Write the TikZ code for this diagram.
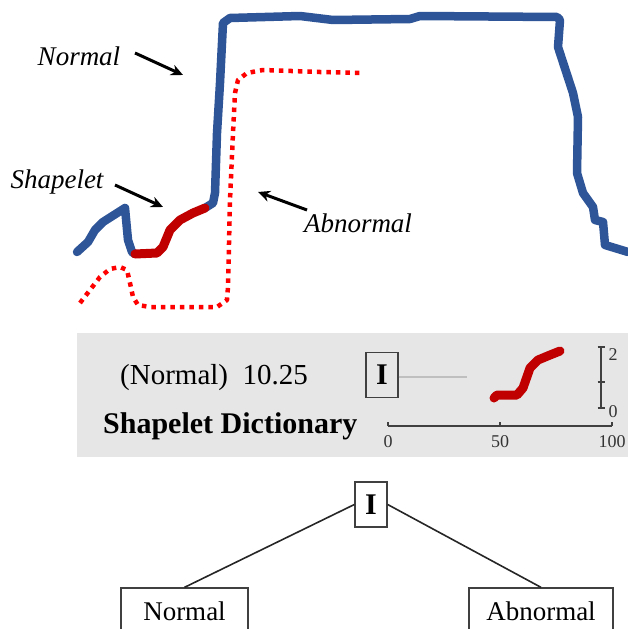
\documentclass[tikz,border=0pt]{standalone}
\usepackage{fontspec}
\setmainfont{Liberation Serif}
\usetikzlibrary{arrows.meta}
\definecolor{normblue}{RGB}{46,85,151}
\definecolor{shapered}{RGB}{192,0,0}
\definecolor{abred}{RGB}{255,0,0}
\definecolor{panelgray}{RGB}{231,230,230}
\definecolor{axisgray}{RGB}{64,64,64}
\tikzset{
  normalcurve/.style={draw=normblue,line width=8.5pt,line join=round,line cap=round},
  shapecurve/.style={draw=shapered,line width=9pt,line join=round,line cap=round},
  abcurve/.style={draw=abred,line width=4.5pt,dash pattern=on 4.5pt off 5pt,line join=round},
  callout/.style={draw=black,line width=3pt,-{Stealth[length=12pt,width=11pt]}},
  italabel/.style={font=\fontsize{27}{32}\selectfont\itshape,inner sep=0pt,anchor=base},
  ibox/.style={draw=axisgray,line width=1.3pt,minimum width=32pt,minimum height=45pt,inner sep=0pt,font=\fontsize{30}{34}\selectfont\bfseries},
  leafbox/.style={draw=axisgray,line width=1.3pt,minimum height=46pt,inner sep=0pt,font=\fontsize{27}{32}\selectfont},
  axisline/.style={draw=axisgray,line width=1.2pt},
  ticklabel/.style={font=\fontsize{18}{21}\selectfont,inner sep=0pt,text=black!80},
  treeline/.style={draw=black!85,line width=1.6pt}
}
\begin{document}
\begin{tikzpicture}[x=1pt,y=-1pt]
\useasboundingbox (0,0) rectangle (628,629);
\clip (0,0) rectangle (628,629);
% ---- time series ----
\draw[abcurve] (80,303) -- (90,290) -- (100,277) -- (110,269) -- (120,267) -- (127,270) -- (130,283) -- (133,297) -- (138,305) -- (150,307) -- (217,307) -- (227,300) -- (228,287) -- (230,200) -- (233,133) -- (235,93) -- (238,80) -- (247,73) -- (263,70) -- (320,72) -- (363,73);
\draw[normalcurve] (77,252) -- (88,242) -- (95,230) -- (103,222) -- (125,208) -- (128,240) -- (132,252) -- (135,254);
\draw[normalcurve] (205,208) -- (213,203) -- (215,193) -- (217,133) -- (220,83) -- (223,23) -- (230,18) -- (300,16) -- (333,20) -- (410,19) -- (420,16) -- (557,17) -- (560,20) -- (558,47) -- (573,93) -- (578,117) -- (577,173) -- (583,193) -- (593,207) -- (595,220) -- (603,222) -- (605,245) -- (628,252);
\draw[shapecurve] (135,254) -- (157,253) -- (163,247) -- (170,230) -- (180,220) -- (193,213) -- (205,208);
% ---- labels and callouts ----
\node[italabel] (lnormal) at (79,65) {Normal};
\node[italabel] (lshape) at (57,188) {Shapelet};
\node[italabel] (labn) at (358,232) {Abnormal};
\coordinate (tnormal) at (183,75);
\coordinate (tshape) at (163,207);
\coordinate (tabn) at (258,192);
\coordinate (snormal) at (135,53);
\coordinate (sshape) at (115,185);
\coordinate (sabn) at (307,210);
\draw[callout] (snormal) -- (tnormal);
\draw[callout] (sshape) -- (tshape);
\draw[callout] (sabn) -- (tabn);
% ---- shapelet dictionary panel ----
\fill[panelgray] (77,333) rectangle (628,457);
\node[anchor=base west,inner sep=0pt,font=\fontsize{29}{34}\selectfont] (pscore) at (120,384) {(Normal)\ \ 10.25};
\node[anchor=base west,inner sep=0pt,font=\fontsize{30}{34}\selectfont\bfseries] (pdict) at (103,433) {Shapelet Dictionary};
\node[ibox] (pI) at (382,375) {I};
\coordinate (pline) at (467,377);
\draw[draw=black!25,line width=2.8pt] (pI.east |- pline) -- (pline);
\draw[shapecurve,line width=9pt] (494,398) -- (497,395) -- (517,395) -- (523,388) -- (530,368) -- (538,360) -- (550,355) -- (560,351);
% y axis
\coordinate (ytop) at (601,347);
\coordinate (ymid) at (601,382);
\coordinate (ybot) at (601,408);
\draw[axisline] (ytop) -- (ybot);
\draw[axisline] ([xshift=-3.5pt]ytop) -- ([xshift=3.5pt]ytop);
\draw[axisline] ([xshift=-3.5pt]ymid) -- ([xshift=3.5pt]ymid);
\draw[axisline] ([xshift=-3.5pt]ybot) -- ([xshift=3.5pt]ybot);
\node[ticklabel] (y2) at (613,355) {2};
\node[ticklabel] (y0) at (613,412) {0};
% x axis
\coordinate (x0) at (388,426);
\coordinate (x50) at (500,426);
\coordinate (x100) at (612,426);
\draw[axisline] (x0) -- (x100);
\draw[axisline] (x0) -- ++(0,-4);
\draw[axisline] (x50) -- ++(0,-4);
\draw[axisline] (x100) -- ++(0,-4);
\node[ticklabel] (lx0) at (388,442) {0};
\node[ticklabel] (lx50) at (500,442) {50};
\node[ticklabel] (lx100) at (612,442) {100};
% ---- decision tree ----
\node[ibox] (tI) at (371,504.5) {I};
\node[leafbox,minimum width=127pt] (tN) at (184.5,611) {Normal};
\node[leafbox,minimum width=144pt] (tA) at (541,611) {Abnormal};
\draw[treeline] (tI.west) -- (tN.north);
\draw[treeline] (tI.east) -- (tA.north);
\end{tikzpicture}
\end{document}
